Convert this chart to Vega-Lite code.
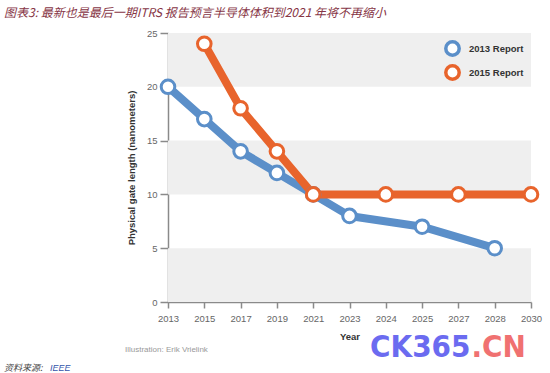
{
  "$schema": "https://vega.github.io/schema/vega-lite/v6.json",
  "width": 363,
  "height": 269,
  "autosize": {"type": "none"},
  "padding": {"left": 168, "top": 33, "right": 19, "bottom": 71},
  "background": "white",
  "title": {
    "text": "图表3: 最新也是最后一期ITRS 报告预言半导体体积到2021 年将不再缩小",
    "anchor": "start",
    "frame": "group",
    "dx": -164,
    "offset": 8,
    "font": "Noto Sans CJK SC",
    "fontSize": 12,
    "fontStyle": "italic",
    "fontWeight": "normal",
    "color": "#873646"
  },
  "config": {
    "view": {"stroke": null},
    "axis": {
      "labelFont": "Liberation Sans",
      "labelFontSize": 9.5,
      "labelColor": "#666666",
      "titleFont": "Liberation Sans",
      "titleFontSize": 9.5,
      "titleFontWeight": "bold",
      "titleColor": "#333333",
      "domainColor": "#8a8a8a",
      "domainWidth": 1.5,
      "tickColor": "#8a8a8a",
      "tickWidth": 1.5,
      "grid": false
    },
    "legend": {
      "title": null,
      "orient": "top-right",
      "offset": 7,
      "symbolType": "circle",
      "symbolSize": 180,
      "symbolStrokeWidth": 3.5,
      "symbolFillColor": "white",
      "labelFont": "Liberation Sans",
      "labelFontSize": 9.5,
      "labelFontWeight": "bold",
      "labelColor": "#333333",
      "labelOffset": 8,
      "rowPadding": -5
    }
  },
  "datasets": {
    "gate": [
      {"year": "2013", "report": "2013 Report", "value": 20},
      {"year": "2015", "report": "2013 Report", "value": 17},
      {"year": "2017", "report": "2013 Report", "value": 14},
      {"year": "2019", "report": "2013 Report", "value": 12},
      {"year": "2021", "report": "2013 Report", "value": 10},
      {"year": "2023", "report": "2013 Report", "value": 8},
      {"year": "2025", "report": "2013 Report", "value": 7},
      {"year": "2028", "report": "2013 Report", "value": 5},
      {"year": "2015", "report": "2015 Report", "value": 24},
      {"year": "2017", "report": "2015 Report", "value": 18},
      {"year": "2019", "report": "2015 Report", "value": 14},
      {"year": "2021", "report": "2015 Report", "value": 10},
      {"year": "2024", "report": "2015 Report", "value": 10},
      {"year": "2027", "report": "2015 Report", "value": 10},
      {"year": "2030", "report": "2015 Report", "value": 10}
    ]
  },
  "layer": [
    {
      "data": {"values": [{"lo": 0, "hi": 5}, {"lo": 10, "hi": 15}, {"lo": 20, "hi": 25}]},
      "mark": {"type": "rect", "color": "#efefef"},
      "encoding": {
        "y": {"field": "lo", "type": "quantitative", "scale": {"domain": [0, 25], "nice": false}, "title": "Physical gate length (nanometers)",
          "axis": {"values": [0, 5, 10, 15, 20, 25], "tickSize": 8, "labelPadding": 3, "titlePadding": 10}},
        "y2": {"field": "hi"}
      }
    },
    {
      "data": {"name": "gate"},
      "mark": {"type": "line", "strokeWidth": 8, "strokeCap": "round", "strokeJoin": "round"},
      "encoding": {
        "x": {"field": "year", "type": "ordinal", "scale": {"type": "point", "padding": 0, "domain": ["2013","2015","2017","2019","2021","2023","2024","2025","2027","2028","2030"]}, "title": "Year",
          "axis": {"labelAngle": 0, "tickSize": 6, "labelPadding": 5, "titlePadding": 9}},
        "y": {"field": "value", "type": "quantitative", "scale": {"domain": [0, 25], "nice": false}, "title": "Physical gate length (nanometers)"},
        "color": {"field": "report", "type": "nominal", "scale": {"domain": ["2013 Report", "2015 Report"], "range": ["#5b8fc9", "#e8642c"]}, "title": null}
      }
    },
    {
      "data": {"name": "gate"},
      "mark": {"type": "point", "shape": "circle", "filled": false, "fill": "white", "fillOpacity": 1, "opacity": 1, "size": 185, "strokeWidth": 3},
      "encoding": {
        "x": {"field": "year", "type": "ordinal", "title": "Year"},
        "y": {"field": "value", "type": "quantitative", "scale": {"domain": [0, 25], "nice": false}, "title": "Physical gate length (nanometers)"},
        "color": {"field": "report", "type": "nominal", "scale": {"domain": ["2013 Report", "2015 Report"], "range": ["#5b8fc9", "#e8642c"]}, "title": null}
      }
    },
    {
      "data": {"values": [{"t": "Illustration: Erik Vrielink"}]},
      "mark": {"type": "text", "align": "left", "baseline": "middle", "dx": -43, "font": "Liberation Sans", "fontSize": 8, "color": "#999999"},
      "encoding": {
        "text": {"field": "t"},
        "x": {"datum": "2013", "type": "ordinal", "title": "Year"},
        "y": {"datum": -4.46, "type": "quantitative", "scale": {"domain": [0, 25], "nice": false}, "title": "Physical gate length (nanometers)"}
      }
    },
    {
      "data": {"values": [{"t": "资料来源:"}]},
      "mark": {"type": "text", "align": "left", "baseline": "middle", "dx": -164, "font": "Noto Sans CJK SC", "fontStyle": "italic", "fontSize": 9, "color": "#444444"},
      "encoding": {
        "text": {"field": "t"},
        "x": {"datum": "2013", "type": "ordinal", "title": "Year"},
        "y": {"datum": -6.1, "type": "quantitative", "scale": {"domain": [0, 25], "nice": false}, "title": "Physical gate length (nanometers)"}
      }
    },
    {
      "data": {"values": [{"t": "IEEE"}]},
      "mark": {"type": "text", "align": "left", "baseline": "middle", "dx": -118, "font": "Liberation Sans", "fontStyle": "italic", "fontSize": 9, "color": "#3355aa"},
      "encoding": {
        "text": {"field": "t"},
        "x": {"datum": "2013", "type": "ordinal", "title": "Year"},
        "y": {"datum": -6.1, "type": "quantitative", "scale": {"domain": [0, 25], "nice": false}, "title": "Physical gate length (nanometers)"}
      }
    },
    {
      "data": {"values": [{"t": "CK365"}]},
      "mark": {"type": "text", "align": "right", "baseline": "alphabetic", "dx": 12, "font": "DejaVu Sans Condensed, Roboto Condensed, Liberation Sans", "fontWeight": "bold", "fontSize": 31, "color": "#6464f0", "opacity": 0.95},
      "encoding": {
        "text": {"field": "t"},
        "x": {"datum": "2027", "type": "ordinal", "title": "Year"},
        "y": {"datum": -5.1, "type": "quantitative", "scale": {"domain": [0, 25], "nice": false}, "title": "Physical gate length (nanometers)"}
      }
    },
    {
      "data": {"values": [{"t": ".CN"}]},
      "mark": {"type": "text", "align": "left", "baseline": "alphabetic", "dx": 13, "font": "DejaVu Sans Condensed, Roboto Condensed, Liberation Sans", "fontWeight": "bold", "fontSize": 31, "color": "#f06a6a", "opacity": 0.95},
      "encoding": {
        "text": {"field": "t"},
        "x": {"datum": "2027", "type": "ordinal", "title": "Year"},
        "y": {"datum": -5.1, "type": "quantitative", "scale": {"domain": [0, 25], "nice": false}, "title": "Physical gate length (nanometers)"}
      }
    }
  ]
}
